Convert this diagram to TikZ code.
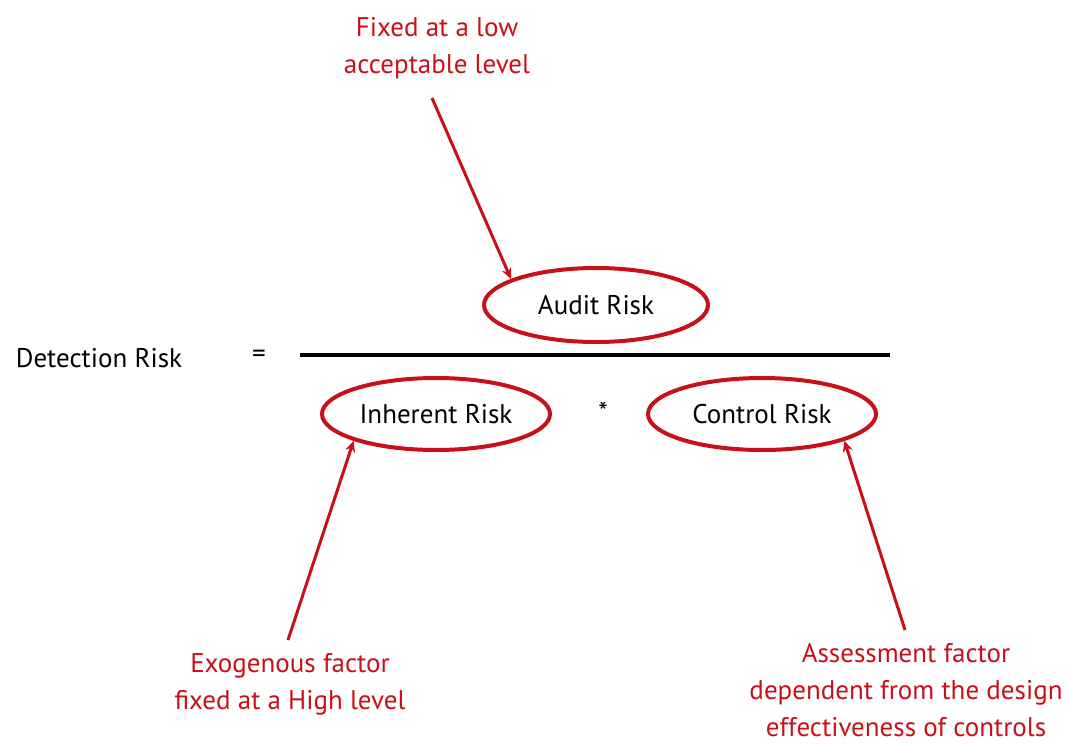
\documentclass[tikz,border=0pt]{standalone}
\usepackage{fontspec}
\setmainfont{PT Sans}
\usetikzlibrary{shapes.geometric,arrows.meta}
\definecolor{rred}{HTML}{C8101A}
\tikzset{
  riskell/.style={draw=rred,line width=4pt,ellipse,minimum width=#1},
  note/.style={text=rred,align=center,font=\fontsize{27}{37}\selectfont},
  plain/.style={font=\fontsize{27}{32}\selectfont},
  redarrow/.style={draw=rred,line width=3pt,-{Stealth[length=11pt,width=10pt]}}
}
\begin{document}
\begin{tikzpicture}[x=1pt,y=-1pt]
\useasboundingbox (0,0) rectangle (1068,744);
\node[riskell=224pt,minimum height=74pt] (audit) at (596,305) {};
\node[plain] at (596,305) {Audit Risk};
\node[riskell=228pt,minimum height=72pt] (inh) at (436,414) {};
\node[plain] at (436,414) {Inherent Risk};
\node[riskell=228pt,minimum height=72pt] (ctl) at (762,414) {};
\node[plain] at (762,414) {Control Risk};
\node[plain] (det) at (99,358) {Detection Risk};
\node[plain] (eq) at (259,356) {=};
\node[plain] (star) at (603,412) {*};
\coordinate (la) at (300,355);
\coordinate (lb) at (890,355);
\draw[line width=4.5pt] (la) -- (lb);
\node[note] (top) at (437,48) {Fixed at a low\\acceptable level};
\node[note] (exo) at (290,684) {Exogenous factor\\fixed at a High level};
\node[note] (ass) at (906,690) {Assessment factor\\dependent from the design\\effectiveness of controls};
\coordinate (t1) at (432,98);
\coordinate (e1) at (288,640);
\coordinate (a1) at (905,630);
\draw[redarrow] (t1) -- (audit.163);
\draw[redarrow] (e1) -- (inh.198);
\draw[redarrow] (a1) -- (ctl.342);
\end{tikzpicture}
\end{document}
